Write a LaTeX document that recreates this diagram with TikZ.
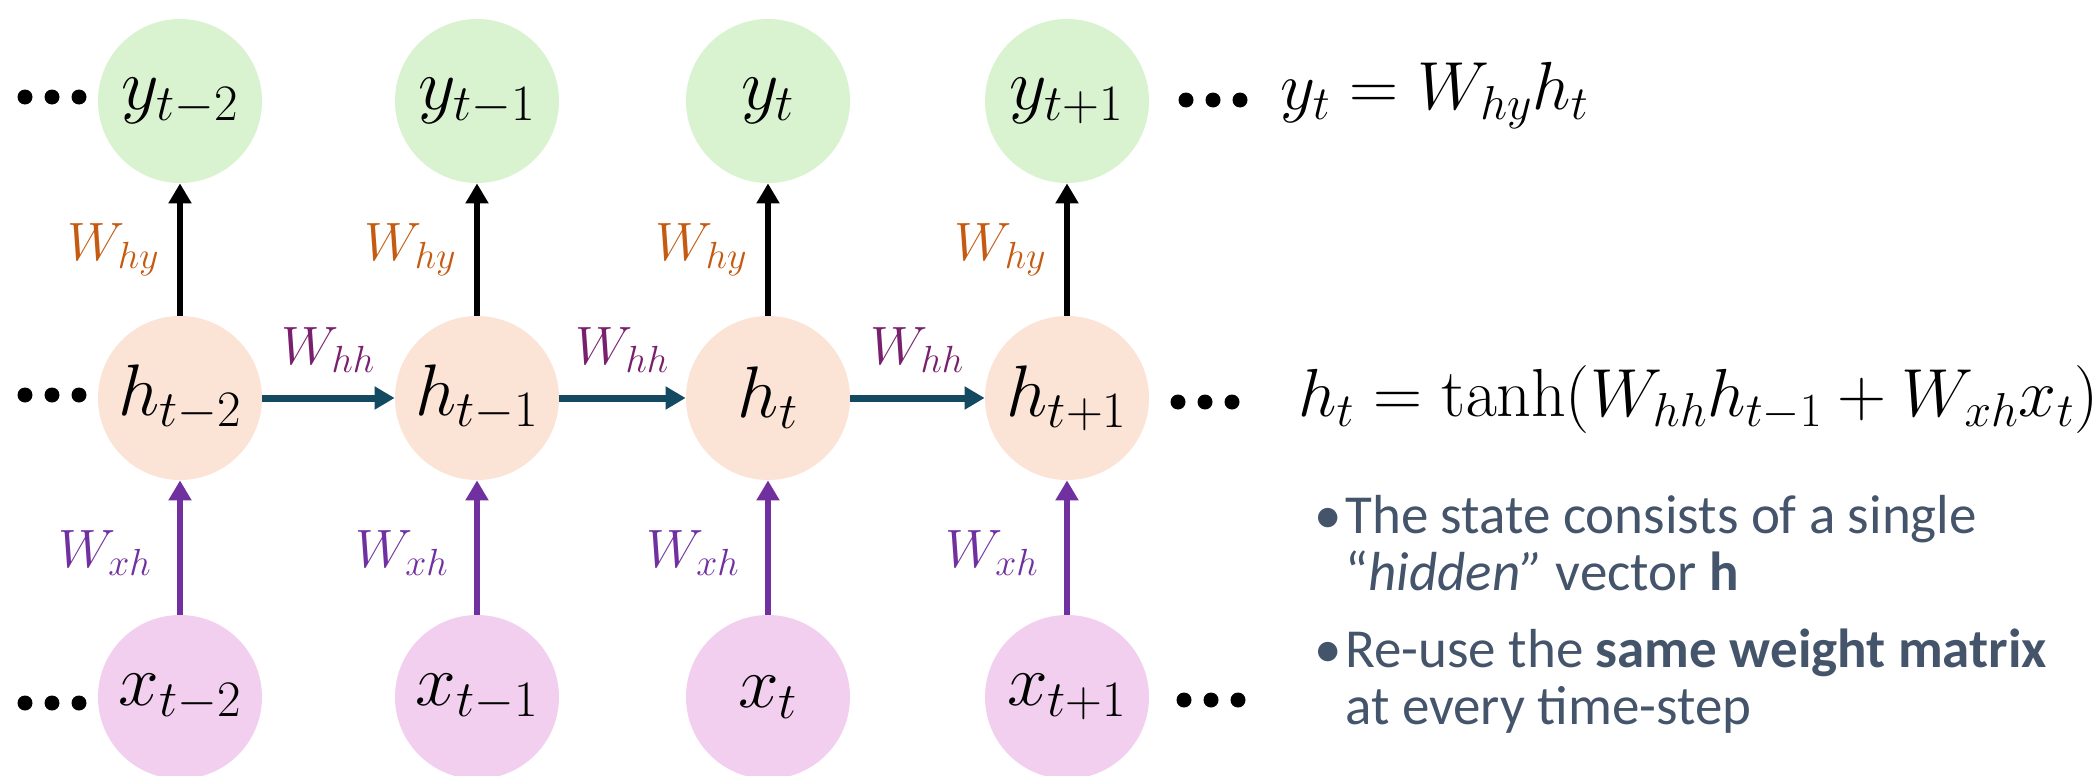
\RequirePackage{fix-cm}
\documentclass[tikz,border=0pt]{standalone}
\usepackage[no-math]{fontspec}
\newfontfamily\bodyfont{Carlito}
\usetikzlibrary{arrows.meta,calc}
\definecolor{ygreen}{HTML}{D9F2D0}
\definecolor{horange}{HTML}{FBE3D6}
\definecolor{xpink}{HTML}{F2CFEE}
\definecolor{tealarr}{HTML}{134A61}
\definecolor{purp}{HTML}{7030A0}
\definecolor{whhc}{HTML}{78206E}
\definecolor{whyc}{HTML}{C55A11}
\definecolor{slate}{HTML}{44546A}
\begin{document}
\begin{tikzpicture}[x=0.5pt,y=-0.5pt,
  cell/.style={circle,minimum size=82pt,inner sep=0pt,font=\fontsize{36.5}{44}\selectfont},
  ycell/.style={cell,fill=ygreen},
  hcell/.style={cell,fill=horange},
  xcell/.style={cell,fill=xpink},
  outarr/.style={line width=3pt,-{Triangle[width=11pt,length=10pt]}},
  recarr/.style={line width=3.5pt,color=tealarr,-{Triangle[width=11pt,length=10pt]}},
  inarr/.style={line width=3pt,color=purp,-{Triangle[width=11pt,length=10pt]}},
  wlab/.style={font=\fontsize{27}{32}\selectfont,inner sep=0pt},
  eq/.style={font=\fontsize{34}{41}\selectfont,inner sep=0pt,anchor=base west},
  bul/.style={font=\bodyfont\fontsize{27.5}{33}\selectfont,color=slate,inner sep=0pt,anchor=base west}]
\useasboundingbox (0,0) rectangle (2100,776);

\foreach \i/\cx/\lab in {1/180/t-2, 2/477/t-1, 3/768/t, 4/1067/t+1} {
  \node[ycell] (y\i) at (\cx,101) {$y_{\lab}$};
  \node[hcell] (h\i) at (\cx,398) {$h_{\lab}$};
  \node[xcell] (x\i) at (\cx,697) {$x_{\lab}$};
  \draw[outarr] (h\i) -- (y\i);
  \draw[inarr] (x\i) -- (h\i);
  \node[wlab,anchor=east,color=whyc] (why\i) at (\cx-20,250) {$W_{hy}$};
  \node[wlab,anchor=east,color=purp] (wxh\i) at (\cx-28,553) {$W_{xh}$};
}
\foreach \a/\b in {1/2, 2/3, 3/4} {
  \draw[recarr] (h\a) -- (h\b);
  \node[wlab,color=whhc] (whh\a) at ($(h\a)!0.5!(h\b)+(0,-48)$) {$W_{hh}$};
}

% ellipsis dots
\foreach \px/\py in {52/97, 52/395, 52/703, 1213/100, 1205/402, 1211/700} {
  \foreach \d in {-27,0,27} \fill (\px+\d,\py) circle (3.75pt);
}

\coordinate (fyx) at (1280,0);
\coordinate (fhx) at (1298,0);
\node[eq] (eqy) at (y4.base -| fyx) {$y_t = W_{hy} h_t$};
\node[eq] (eqh) at (h4.base -| fhx) {$h_t = \tanh(W_{hh} h_{t-1} + W_{xh} x_t)$};

\node[bul] (b1a) at (1314,533) {\makebox[15.5pt][l]{•}The state consists of a single};
\node[bul] (b1b) at (1345,590) {“\textit{hidden”} vector \textbf{h}};
\node[bul] (b2a) at (1314,667) {\makebox[15.5pt][l]{•}Re-use the \textbf{same weight matrix}};
\node[bul] (b2b) at (1345,724) {at every time-step};
\end{tikzpicture}
\end{document}
